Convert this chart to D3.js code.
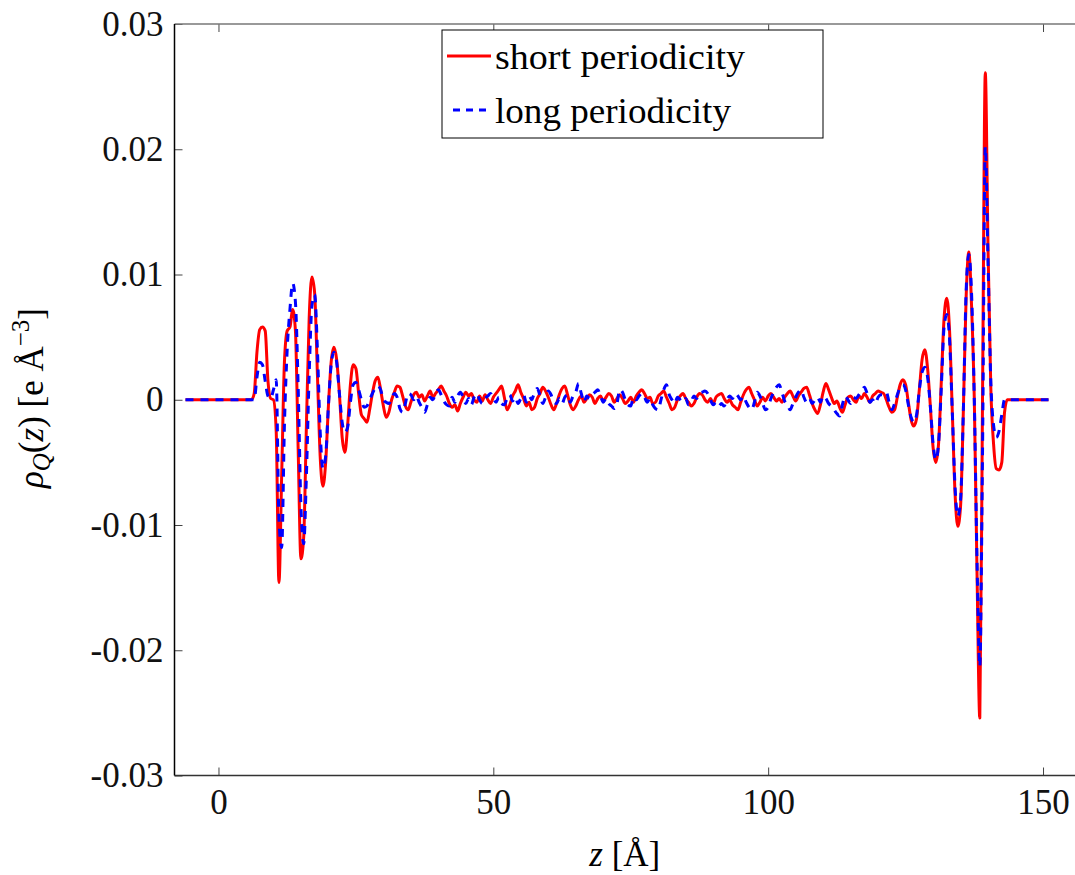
<!DOCTYPE html>
<html>
<head>
<meta charset="utf-8">
<script src="https://cdn.jsdelivr.net/npm/d3@7"></script>
<style>
  body { margin: 0; background: #fff; }
  svg { display: block; }
  svg text { font-family: "Liberation Serif", "DejaVu Serif", serif; }
</style>
</head>
<body>
<svg id="chart" width="1075" height="875"></svg>
<script>
// samples on a uniform z grid: z = zStart + i * zStep  (Angstrom)
const zStart = -6
const zStep = 0.5

// charge density, e / A^3
const shortPeriodicity = [
  0, 0, 0, 0, 0, 0, 0, 0, 0, 0,
  0, 0, 0, 0, 0, 0, 0, 0, 0, 0,
  0, 0, 0, 0, 0, 0.0005, 0.0038, 0.0056, 0.0058, 0.0055,
  0.0015, 0.0001, 0, -0.0025, -0.0146, -0.006, 0.003, 0.0055, 0.0058, 0.0072,
  0.0055, -0.004, -0.0127, -0.011, -0.002, 0.0065, 0.0098, 0.0085, 0.002, -0.0045,
  -0.0069, -0.005, -0.0005, 0.003, 0.0042, 0.0032, 0.0005, -0.003, -0.0042, -0.002,
  0.0012, 0.0028, 0.0025, 0.0005, -0.0012, -0.0015, -0.0018, -0.0008, 0.0005, 0.0015,
  0.0018, 0.0008, -0.0005, -0.0014, -0.001, 0, 0.0006, 0.0011, 0.001, 0.0003,
  -0.0005, -0.0008, -0.0002, 0.0004, 0.0006, 0.0002, 0.0004, -0.0001, 0.0003, 0.0007,
  0.0002, 0.0005, 0.0008, 0.0011, 0.0007, 0.0003, -0.0003, -0.0006, -0.0004, -0.0009,
  -0.0003, 0.0002, 0.0006, 0.0003, 0.0005, 0, -0.0002, 0.0003, -0.0001, 0.0004,
  0, -0.0003, 0.0002, 0.0005, 0.0008, 0.0011, 0.0002, -0.0008, -0.0004, 0.0003,
  0.0007, 0.0012, 0.0006, 0.0001, -0.0005, -0.0002, -0.0008, -0.0006, 0.0001, 0.0005,
  0.001, 0.0007, 0.0002, -0.0004, -0.0008, -0.0003, 0.0004, 0.0009, 0.0011, 0.0004,
  -0.0004, -0.0008, -0.0005, 0, 0.0003, -0.0002, 0.0001, 0.0004, 0.0002, -0.0003,
  0.0001, 0.0003, -0.0001, 0.0002, 0.0005, 0.0003, -0.0002, 0.0001, 0.0004, 0.0001,
  -0.0003, -0.0001, 0.0002, -0.0002, 0.0003, 0.0006, 0.0008, 0.0005, 0.0001, 0.0002,
  -0.0003, -0.0002, 0.0003, 0.0005, 0.0007, 0.0002, -0.0003, -0.0008, -0.0006, 0,
  0.0003, 0.0005, 0.0001, -0.0002, -0.0005, -0.0003, 0.0002, 0.0005, 0.0004, 0,
  -0.0002, 0.0001, -0.0003, 0.0002, 0.0004, 0.0005, 0.0001, -0.0002, 0, -0.0004,
  -0.0006, -0.0008, -0.0002, 0.0004, 0.0008, 0.001, 0.0005, 0, -0.0005, -0.0002,
  0.0002, -0.0001, 0.0003, 0.0005, 0.0002, -0.0001, 0.0001, -0.0002, 0.0002, 0.0005,
  0.0007, 0.0003, -0.0001, 0.0003, 0.0006, 0.0009, 0.001, 0.0004, -0.0003, -0.0008,
  -0.0011, -0.0004, 0.0006, 0.0013, 0.0008, 0.0002, -0.0003, -0.0001, -0.0006, -0.001,
  -0.0004, 0.0002, 0.0003, 0, -0.0002, 0.0003, 0.0001, 0.0005, 0.0002, -0.0002,
  0.0003, 0.0005, 0.0007, 0.0006, 0.0005, 0, -0.0006, -0.001, -0.0008, 0.0002,
  0.0012, 0.0016, 0.0012, -0.0002, -0.0016, -0.0021, -0.0015, 0.0008, 0.0032, 0.004,
  0.0025, -0.0005, -0.0038, -0.005, -0.0035, 0.0015, 0.0065, 0.0081, 0.0055, -0.001,
  -0.0075, -0.0101, -0.0085, -0.001, 0.008, 0.0118, 0.0075, 0, -0.014, -0.0254,
  0.0005, 0.0261, 0.012, 0.001, -0.0035, -0.0055, -0.0056, -0.005, -0.001, 0,
  0, 0, 0, 0, 0, 0, 0, 0, 0, 0,
  0, 0, 0, 0, 0
]

const longPeriodicity = [
  0, 0, 0, 0, 0, 0, 0, 0, 0, 0,
  0, 0, 0, 0, 0, 0, 0, 0, 0, 0,
  0, 0, 0, 0, 0, 0, 0.0018, 0.003, 0.0028, 0.0015,
  0.0003, 0.0001, 0.0008, 0.0016, -0.0095, -0.0118, -0.002, 0.004, 0.0072, 0.0093,
  0.0078, 0.001, -0.0085, -0.0115, -0.006, 0.002, 0.0075, 0.0084, 0.004, -0.0025,
  -0.0055, -0.0045, -0.0005, 0.0028, 0.0038, 0.003, 0.0005, -0.0018, -0.0026, -0.0022,
  -0.0002, 0.0012, 0.0014, 0.0008, 0, -0.0006, -0.0005, 0, 0.0005, 0.0009,
  0.0011, 0.0008, 0, -0.0002, -0.0003, 0.0001, 0.0005, 0.0002, -0.0007, -0.001,
  -0.0003, 0.0005, 0.0004, 0, 0.0003, -0.0002, -0.0006, -0.001, -0.0004, 0.0002,
  0, 0.0005, 0.0008, 0.0004, -0.0001, -0.0004, -0.0005, 0.0002, -0.0002, 0.0003,
  0.0006, 0.0002, -0.0003, 0.0001, -0.0004, 0.0002, 0.0005, 0, -0.0003, 0.0001,
  0.0003, 0.0005, 0.0001, -0.0002, 0.0002, -0.0003, -0.0004, 0.0001, 0.0004, -0.0001,
  0.0002, -0.0003, 0.0001, 0.0004, -0.0002, 0.0003, 0, 0.0006, 0.0009, 0.0003,
  -0.0003, 0.0002, 0.0007, 0.0004, -0.0002, -0.0003, 0.0001, -0.0003, 0.0002, 0.0004,
  -0.0002, 0.0003, 0.0006, 0.0013, 0.0005, -0.0002, 0.0003, 0.0001, 0.0004, 0.0006,
  0.0008, 0.0003, -0.0002, 0.0001, -0.0003, -0.0005, -0.0007, -0.0003, 0.0008, 0.0006,
  0, -0.0004, -0.0005, 0.0002, 0, 0.0003, 0.0005, 0.0002, -0.0002, 0.0001,
  -0.0004, -0.0007, -0.0008, 0, 0.0008, 0.0012, 0.0004, 0, -0.0003, 0.0002,
  0, -0.0002, 0.0001, -0.0004, -0.0001, 0.0003, 0.0001, 0.0005, 0.0006, 0.0007,
  0.0005, 0, -0.0004, -0.0002, -0.0005, -0.0003, -0.0005, 0, 0.0003, 0.0001,
  0.0005, 0.0003, 0, 0.0003, -0.0002, -0.0006, -0.0008, -0.0002, 0.0006, 0.0003,
  -0.0003, -0.0008, -0.0006, 0.0001, 0.0006, 0.001, 0.0012, 0.0006, -0.0001, -0.0004,
  -0.0008, -0.0003, 0.0002, 0.0006, 0.0008, 0.0002, -0.0002, 0.0001, -0.0003, 0,
  0.0002, -0.0002, 0.0003, 0.0001, -0.0003, -0.0005, -0.0008, -0.0011, -0.0013, -0.0004,
  0.0003, 0, -0.0003, 0.0002, 0.0001, 0.0004, 0.0007, 0.001, 0.0005, -0.0002,
  0, -0.0003, 0.0002, 0.0004, 0.0004, 0.0006, -0.0002, -0.0008, -0.0003, 0.0004,
  0.001, 0.0012, 0.0008, -0.0004, -0.0014, -0.0018, -0.0012, 0.0008, 0.0022, 0.0026,
  0.0018, -0.0005, -0.0035, -0.0048, -0.0035, 0.001, 0.0058, 0.0068, 0.0048, -0.001,
  -0.007, -0.0093, -0.008, -0.001, 0.0085, 0.0116, 0.0085, 0, -0.013, -0.0213,
  -0.004, 0.0202, 0.011, 0.0015, -0.002, -0.003, -0.0025, -0.0012, 0, 0,
  0, 0, 0, 0, 0, 0, 0, 0, 0, 0,
  0, 0, 0, 0, 0
]

const seriesNames = ["short periodicity", "long periodicity"]
const seriesColors = ["#ff0000", "#0000ff"]
const xTicks = [0, 50, 100, 150]
const yTicks = [-0.03, -0.02, -0.01, 0, 0.01, 0.02, 0.03]
const yTickLabels = ["-0.03", "-0.02", "-0.01", "0", "0.01", "0.02", "0.03"]

let serif = "'Liberation Serif', 'DejaVu Serif', serif"
let box = { left: 174.5, right: 1076, top: 24, bottom: 775.5 }

function make_scales() {
  let x = d3.scaleLinear().domain([-8, 156]).range([box.left, box.right])
  let y = d3.scaleLinear().domain([-0.03, 0.03]).range([box.bottom, box.top])
  return { x, y }
}

function draw_axes(svg, scales) {
  let fs = 35

  let bottom = svg.append("g")
    .attr("transform", `translate(0,${box.bottom})`)
    .call(d3.axisBottom(scales.x).tickValues(xTicks).tickSizeInner(-8).tickSizeOuter(0).tickPadding(14))
  bottom.select(".domain").remove()

  let top = svg.append("g")
    .attr("transform", `translate(0,${box.top})`)
    .call(d3.axisTop(scales.x).tickValues(xTicks).tickSizeInner(-8).tickSizeOuter(0).tickFormat(""))
  top.select(".domain").remove()

  let left = svg.append("g")
    .attr("transform", `translate(${box.left},0)`)
    .call(d3.axisLeft(scales.y).tickValues(yTicks).tickSizeInner(-8).tickSizeOuter(0).tickPadding(11)
      .tickFormat((d, i) => yTickLabels[i]))
  left.select(".domain").remove()

  svg.selectAll("g").attr("font-family", serif)
  svg.selectAll(".tick line").attr("stroke", "#444").attr("stroke-width", 1)
  svg.selectAll(".tick text")
    .style("font-family", serif)
    .attr("font-size", fs)
    .attr("fill", "#111")

  // frame
  svg.append("line")
    .attr("x1", box.left).attr("x2", box.right).attr("y1", box.top).attr("y2", box.top)
    .attr("stroke", "#777").attr("stroke-width", 1.5)
  svg.append("line")
    .attr("x1", box.left).attr("x2", box.right).attr("y1", box.bottom).attr("y2", box.bottom)
    .attr("stroke", "#333").attr("stroke-width", 1.5)
  svg.append("line")
    .attr("x1", box.left).attr("x2", box.left).attr("y1", box.top).attr("y2", box.bottom)
    .attr("stroke", "#000").attr("stroke-width", 1.5)

  // axis titles
  let xl = svg.append("text")
    .attr("x", (box.left + 1075) / 2).attr("y", 866)
    .attr("text-anchor", "middle").attr("font-size", fs)
    .style("font-family", serif)
  xl.append("tspan").attr("font-style", "italic").text("z")
  xl.append("tspan").text(" [Å]")

  let yl = svg.append("text")
    .attr("transform", "translate(43,398) rotate(-90)")
    .attr("text-anchor", "middle").attr("font-size", fs)
    .style("font-family", serif)
  yl.append("tspan").attr("font-style", "italic").text("ρ")
  yl.append("tspan").attr("font-style", "italic").attr("font-size", 25).attr("dy", 7).text("Q")
  yl.append("tspan").attr("dy", -7).text("(")
  yl.append("tspan").attr("font-style", "italic").text("z")
  yl.append("tspan").text(") [e Å")
  yl.append("tspan").attr("font-size", 25).attr("dy", -14).text("−3")
  yl.append("tspan").attr("dy", 14).text("]")
}

function draw_series(svg, scales) {
  let line = d3.line()
    .x((d, i) => scales.x(zStart + i * zStep))
    .y(d => scales.y(d))
    .curve(d3.curveMonotoneX)

  svg.append("path")
    .datum(shortPeriodicity)
    .attr("fill", "none")
    .attr("stroke", seriesColors[0])
    .attr("stroke-width", 3)
    .attr("stroke-linejoin", "round")
    .attr("d", line)

  svg.append("path")
    .datum(longPeriodicity)
    .attr("fill", "none")
    .attr("stroke", seriesColors[1])
    .attr("stroke-width", 3)
    .attr("stroke-dasharray", "8,7")
    .attr("d", line)
}

function draw_legend(svg) {
  let lg = svg.append("g")
  lg.append("rect")
    .attr("x", 442).attr("y", 30).attr("width", 381).attr("height", 108)
    .attr("fill", "#fff").attr("stroke", "#000").attr("stroke-width", 1)

  let rows = [56, 110]
  let textLen = [250, 236]
  seriesNames.forEach((name, i) => {
    lg.append("line")
      .attr("x1", 447).attr("x2", 491).attr("y1", rows[i]).attr("y2", rows[i])
      .attr("stroke", seriesColors[i]).attr("stroke-width", 3)
      .attr("stroke-dasharray", i == 1 ? "7,6" : null)
      .attr("stroke-dashoffset", i == 1 ? -6 : null)
    lg.append("text")
      .attr("x", 495).attr("y", rows[i] + 13)
      .attr("font-size", 35)
      .style("font-family", serif)
      .attr("textLength", textLen[i]).attr("lengthAdjust", "spacingAndGlyphs")
      .text(name)
  })
}

let svg = d3.select("#chart")
let scales = make_scales()
draw_series(svg, scales)
draw_axes(svg, scales)
draw_legend(svg)
</script>
</body>
</html>
